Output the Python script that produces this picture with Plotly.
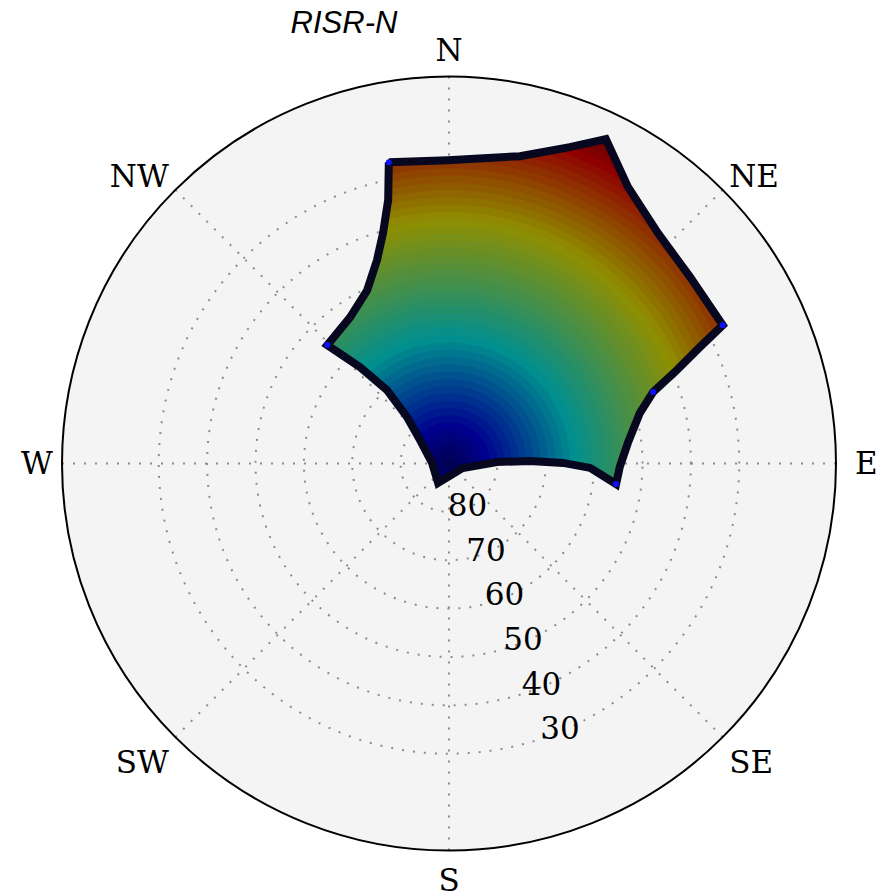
import math
import plotly.graph_objects as go

# ---------------- data ----------------
TITLE = "RISR-N"
COMPASS_AZ = [0, 45, 90, 135, 180, 225, 270, 315]
COMPASS_LABELS = ["N", "NE", "\u00a0E", "SE", "S", "SW", "W", "NW"]
ELEV_TICKS = [80, 70, 60, 50, 40, 30]

# outline of the beam pattern: azimuth (deg, clockwise from N) / elevation (deg)
edge_az = [348.7, 359.8, 13.0, 20.9, 25.8, 32.9, 42.2, 52.3, 63.2, 65.1, 67.7,
           70.7, 75.2, 83.5, 91.2, 97.0, 91.8, 89.7, 88.2, 88.2, 107.8, 209.4,
           271.7, 309.0, 317.9, 319.8, 317.3, 314.2, 326.0, 334.7, 340.5, 344.0,
           347.0]
edge_el = [26.5, 27.3, 24.8, 20.0, 15.5, 21.9, 25.7, 27.0, 26.6, 32.8, 39.1,
           45.3, 49.2, 52.8, 54.7, 55.2, 60.8, 66.4, 73.3, 80.1, 87.0, 85.4,
           86.5, 82.3, 77.1, 70.1, 62.9, 54.9, 53.5, 50.4, 45.4, 40.5, 34.1]

# beams drawn in blue on the outline
marked_az = [348.7, 63.2, 70.7, 97.0, 314.2]
marked_el = [26.5, 26.6, 45.3, 55.2, 54.9]

# colour scale (jet, dimmed because the beams are small dots on black)
JET_STOPS = [(0.0, (0, 0, 128)), (0.11, (0, 0, 255)), (0.34, (0, 255, 255)),
             (0.65, (255, 255, 0)), (0.89, (255, 0, 0)), (1.0, (128, 0, 0))]
DIM = 0.56
ZENITH_CMIN, ZENITH_CMAX = -1.0, 78.0   # colour range (zenith angle, deg)
BAND_STEP = 1.5          # degrees of zenith angle per colour band
RLABEL_BEARING = 157.5   # bearing along which the elevation labels sit


# ---------------- helpers ----------------
def jet(z):
    t = (z - ZENITH_CMIN) / (ZENITH_CMAX - ZENITH_CMIN)
    t = min(max(t, 0.0), 1.0)
    for (t0, c0), (t1, c1) in zip(JET_STOPS[:-1], JET_STOPS[1:]):
        if t <= t1:
            f = (t - t0) / (t1 - t0) if t1 > t0 else 0
            c = [DIM * (a + f * (b - a)) for a, b in zip(c0, c1)]
            return "rgb(%d,%d,%d)" % tuple(int(round(v)) for v in c)
    return "rgb(64,0,0)"


def to_xy(az, el):
    z = 90.0 - el
    return (z * math.sin(math.radians(az)), z * math.cos(math.radians(az)))


def to_polar(pts):
    r = [math.hypot(x, y) for x, y in pts]
    th = [math.degrees(math.atan2(x, y)) % 360 for x, y in pts]
    return r, th


def arc(A, B, R, step=math.radians(1.0)):
    a0 = math.atan2(A[1], A[0])
    a1 = math.atan2(B[1], B[0])
    d = (a1 - a0) % (2 * math.pi)
    n = int(d / step)
    return [(R * math.cos(a0 + d * k / (n + 1)), R * math.sin(a0 + d * k / (n + 1)))
            for k in range(1, n + 1)]


def origin_inside(pts):
    inside = False
    n = len(pts)
    for i in range(n):
        (x1, y1), (x2, y2) = pts[i], pts[(i + 1) % n]
        if (y1 > 0) != (y2 > 0):
            xc = x1 + (0 - y1) * (x2 - x1) / (y2 - y1)
            if xc > 0:
                inside = not inside
    return inside


def clip_disk(pts, R):
    """Polygon (counter-clockwise) intersected with the disk |p| <= R."""
    n = len(pts)
    ins = [x * x + y * y <= R * R for x, y in pts]
    if all(ins):
        return pts[:]
    s = ins.index(True) if any(ins) else 0
    order = pts[s:] + pts[:s]
    out, exit_pt, first_entry = [], None, None
    for i in range(n):
        p, q = order[i], order[(i + 1) % n]
        if p[0] ** 2 + p[1] ** 2 <= R * R:
            out.append(p)
        dx, dy = q[0] - p[0], q[1] - p[1]
        a = dx * dx + dy * dy
        b = 2 * (p[0] * dx + p[1] * dy)
        c = p[0] ** 2 + p[1] ** 2 - R * R
        disc = b * b - 4 * a * c
        if a == 0 or disc <= 0:
            continue
        sq = math.sqrt(disc)
        for t in sorted([(-b - sq) / (2 * a), (-b + sq) / (2 * a)]):
            if 0 < t < 1:
                pt = (p[0] + t * dx, p[1] + t * dy)
                if b + 2 * a * t > 0:      # leaving the disk
                    out.append(pt)
                    exit_pt = pt
                else:                      # entering the disk
                    if exit_pt is not None:
                        out.extend(arc(exit_pt, pt, R))
                    else:
                        first_entry = pt
                    out.append(pt)
    if exit_pt is not None and first_entry is not None and not any(ins):
        out.extend(arc(exit_pt, first_entry, R))
    if not out:
        if origin_inside(pts):
            return arc((R, 0), (R, -1e-9), R)
        return []
    return out


# ---------------- geometry of the pattern ----------------
poly = [to_xy(a, e) for a, e in zip(edge_az, edge_el)]
npts = len(poly)
area = sum(poly[i][0] * poly[(i + 1) % npts][1] - poly[(i + 1) % npts][0] * poly[i][1]
           for i in range(npts))
if area < 0:
    poly = poly[::-1]
zmax = max(math.hypot(x, y) for x, y in poly)

fig = go.Figure()

# colour = zenith angle of each beam -> nested bands, outermost first
R = zmax
while R > 0:
    piece = clip_disk(poly, R)
    if piece:
        r, th = to_polar(piece)
        col = jet(R - BAND_STEP / 2)
        fig.add_trace(go.Scatterpolar(r=r + [r[0]], theta=th + [th[0]], mode="lines",
                                      fill="toself", fillcolor=col,
                                      line=dict(width=0, color=col),
                                      hoverinfo="skip", showlegend=False))
    R -= BAND_STEP

# outline
fig.add_trace(go.Scatterpolar(r=[90 - e for e in edge_el] + [90 - edge_el[0]],
                              theta=edge_az + [edge_az[0]], mode="lines",
                              line=dict(color="#07071f", width=8),
                              hoverinfo="skip", showlegend=False))
# blue beams on the outline
fig.add_trace(go.Scatterpolar(r=[90 - e for e in marked_el], theta=marked_az,
                              mode="markers",
                              marker=dict(color="#1010ff", size=6, line=dict(width=0)),
                              hoverinfo="skip", showlegend=False))

serif = dict(family="DejaVu Serif", size=31, color="black")

# elevation labels, centred on their grid circles
fig.add_trace(go.Scatterpolar(r=[90 - e for e in ELEV_TICKS],
                              theta=[RLABEL_BEARING] * len(ELEV_TICKS),
                              mode="text", text=[str(e) for e in ELEV_TICKS],
                              textposition="middle center", textfont=serif,
                              hoverinfo="skip", showlegend=False))

grid = dict(showgrid=True, gridcolor="#8c8c8c", griddash="2px,9px", gridwidth=1.5)

# the page has an 8 px body margin, so the figure is laid out 8 px up/left
W, H = 878, 886
cx, cy, rad = 441, 455.5, 387
fig.update_layout(
    width=W, height=H,
    margin=dict(l=0, r=0, t=0, b=0),
    paper_bgcolor="white",
    showlegend=False,
    title=dict(text=TITLE, x=336 / W, xanchor="center", y=1 - 3 / H, yanchor="top",
               font=dict(family="Liberation Sans", size=31, style="italic", color="black")),
    polar=dict(
        domain=dict(x=[(cx - rad) / W, (cx + rad) / W],
                    y=[1 - (cy + rad) / H, 1 - (cy - rad) / H]),
        bgcolor="#f4f4f4",
        radialaxis=dict(range=[0, 80], tickmode="array",
                        tickvals=[90 - e for e in ELEV_TICKS],
                        showticklabels=False, showline=False, ticks="", **grid),
        angularaxis=dict(direction="clockwise", rotation=90, tickmode="array",
                         tickvals=COMPASS_AZ, ticktext=COMPASS_LABELS,
                         showline=True, linecolor="black", linewidth=2,
                         ticks="outside", ticklen=2, tickcolor="rgba(0,0,0,0)",
                         tickfont=serif, **grid),
    ),
)

fig.write_html("out.html")
